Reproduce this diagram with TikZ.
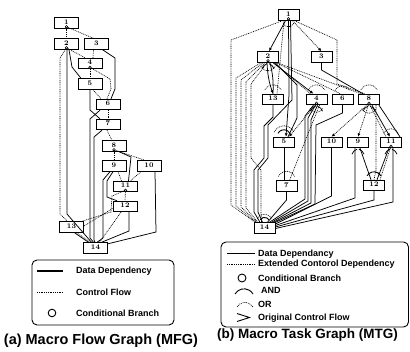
\documentclass[tikz,border=0pt]{standalone}
\usepackage{fontspec}
\newfontfamily\lsans{Liberation Sans}
\usetikzlibrary{calc,arrows.meta}
\begin{document}
\begin{tikzpicture}[x=1pt,y=1pt,
  gbox/.style={draw, line width=0.9pt, fill=white, minimum width=24pt, minimum height=10.5pt, inner sep=0pt, text height=4.8pt, text depth=2pt, font=\fontsize{7}{7}\selectfont\bfseries},
  tbox/.style={gbox, minimum width=21pt},
  dd/.style={line width=0.75pt},
  cf/.style={line width=0.65pt, dash pattern=on 0.9pt off 0.9pt},
  arr/.style={-{Latex[length=3.5pt,width=3pt]}},
  brc/.style={line width=0.6pt, fill=white},
  legtxt/.style={font=\lsans\bfseries\fontsize{9}{9}\selectfont, anchor=west, inner sep=0pt},
  captxt/.style={font=\lsans\bfseries\fontsize{14.5}{14.5}\selectfont, inner sep=0pt},
  legbox/.style={draw, line width=0.9pt, rounded corners=5pt}
]
\useasboundingbox (0,0) rectangle (410,-352);

% ================= (a) MFG =================
\node[gbox] (a1) at (66.5,-23) {1};
\node[gbox] (a2) at (66.5,-44) {2};
\node[gbox] (a3) at (96.5,-44) {3};
\node[gbox] (a4) at (90,-63.5) {4};
\node[gbox] (a5) at (90,-84) {5};
\node[gbox] (a6) at (108,-104.5) {6};
\node[gbox] (a7) at (108,-124.5) {7};
\node[gbox] (a8) at (114,-146) {8};
\node[gbox] (a9) at (114,-166) {9};
\node[gbox] (a10) at (149,-166) {10};
\node[gbox] (a11) at (125.5,-186.5) {11};
\node[gbox] (a12) at (125,-206.5) {12};
\node[gbox] (a13) at (71.5,-227) {13};
\node[gbox] (a14) at (95.5,-248) {14};

\foreach \n in {a1,a2,a4,a8,a11}{\coordinate (\n c) at ($(\n.south)+(0,1.9)$);}

% control flow
\draw[cf] (a1c) -- (a2.north);
\draw[cf] (a1c) -- ($(a3.north)+(-3,0)$);
\draw[cf] (a2c) -- ($(a4.north)+(-5,0)$);
\draw[cf] (a2c) -- (60,-58) -- (60,-214) -- ($(a13.north)+(-4,0)$);
\draw[cf] ($(a3.south)+(-3,0)$) -- ($(a4.north)+(3,0)$);
\draw[cf] (a4c) -- (a5.north);
\draw[cf] (a4c) -- (110,-79) -- (111,-89) -- ($(a6.north)+(-1,0)$);
\draw[cf] ($(a5.south)+(3,0)$) -- ($(a6.north)+(-7,0)$);
\draw[cf] (a6.south) -- (a7.north);
\draw[cf] ($(a7.south)+(-1,0)$) -- ($(a8.north)+(-2,0)$);
\draw[cf] (a8c) -- (a9.north);
\draw[cf] (a8c) -- ($(a10.north)+(-4,0)$);
\draw[cf] ($(a9.south)+(4,0)$) -- ($(a11.north)+(-4,0)$);
\draw[cf] ($(a10.south)+(-8,0)$) -- ($(a11.north)+(5,0)$);
\draw[cf] (a11c) -- (a12.north);
\draw[cf] (a11c) -- (112,-196) -- (111,-212) -- ($(a13.north east)+(-2,0)$);
\draw[cf] ($(a12.west)+(0,-2)$) -- ($(a13.east)+(0,1)$);
\draw[cf] ($(a13.south)+(5,0)$) -- ($(a14.north)+(-5,0)$);
\draw[cf] ($(a12.south)+(-4,0)$) -- ($(a14.north)+(4,0)$);

% data dependency
\draw[dd] ($(a2.south)+(0.6,0)$) -- (67,-214) -- ($(a14.north)+(-4,0)$);
\draw[dd] ($(a2.south)+(2.5,0)$) -- (72,-67) -- ($(a5.north)+(-9,0)$);
\draw[dd] ($(a3.south)+(6,0)$) -- (115,-58) -- (115,-89) -- ($(a6.north)+(3,0)$);
\draw[dd] (a5.south) -- (90,-110) -- ($(a7.north)+(-8,0)$);
\draw[dd] ($(a6.south)+(-8,0)$) -- (90,-119) -- (90,-238) -- ($(a14.north)+(-2,0)$);
\draw[dd] ($(a7.south)+(-6,0)$) -- (94,-137) -- (94,-240) -- ($(a14.north)+(-0.5,0)$);
\draw[dd] ($(a8.south)+(5,0)$) -- (131,-157) -- ($(a11.north)+(3,0)$);
\draw[dd] ($(a9.south)+(-4,0)$) -- (103,-180) -- (103,-238) -- ($(a14.north)+(1.5,0)$);
\draw[dd] ($(a9.south)+(-1,0)$) -- (107,-181) -- (107,-197) -- ($(a12.north)+(-8,0)$);
\draw[dd] ($(a10.south)+(6,0)$) -- (156,-232) -- ($(a14.north east)+(0,-1.5)$);
\draw[dd] ($(a12.south)+(4,0)$) -- (129,-231) -- ($(a14.north)+(6,0)$);
\draw[dd] ($(a13.south)+(3,0)$) -- ($(a14.north)+(-7,0)$);

\foreach \n in {a1,a2,a4,a8,a11}{\draw[brc] (\n c) circle (1.3pt);}

% legend (a)
\draw[legbox] (32,-260) rectangle (174,-325);
\draw[line width=1.4pt] (37,-271) -- (63,-271);
\node[legtxt] (la1) at (76,-271) {Data Dependency};
\draw[cf] (37,-292) -- (63,-292);
\node[legtxt] (la2) at (76,-292) {Control Flow};
\draw[line width=0.9pt] (52,-313) circle (3.8pt);
\node[legtxt] (la3) at (76,-313) {Conditional Branch};
\node[captxt] (capa) at (101,-340.5) {(a) Macro Flow Graph (MFG)};

% ================= (b) MTG =================
\node[tbox] (b1) at (288.5,-15) {1};
\node[tbox] (b2) at (268,-57) {2};
\node[tbox] (b3) at (321.5,-57) {3};
\node[tbox] (b13) at (273,-99.5) {13};
\node[tbox] (b4) at (316.5,-99.5) {4};
\node[tbox] (b6) at (342.5,-99.5) {6};
\node[tbox] (b8) at (369,-99.5) {8};
\node[tbox] (b5) at (284,-142.5) {5};
\node[tbox] (b10) at (331.5,-142.5) {10};
\node[tbox] (b9) at (358,-142.5) {9};
\node[tbox] (b11) at (391,-142.5) {11};
\node[tbox] (b7) at (286.5,-186) {7};
\node[tbox] (b12) at (374,-185.5) {12};
\node[tbox] (b14) at (264.5,-228) {14};

\foreach \n in {b1,b2,b4,b8,b11}{\coordinate (\n c) at ($(\n.south)+(0,1.9)$);}

% extended control dependency
\draw[cf] ($(b1.south)+(-6,0)$) -- (231,-40) -- (231,-205) -- ($(b14.north)+(-9.5,0)$);
\draw[cf] ($(b1.south)+(6,0)$) -- (337,-40) -- (337,-84) -- ($(b8.north)+(-4,0)$);
\draw[cf,arr] ($(b1.south)+(4,0)$) -- (b3.north);
\draw[cf] ($(b1.south)+(-4.5,0)$) -- ($(b13.north)+(4,0)$);
\draw[cf] ($(b2.south)+(-7,0)$) -- (236,-78) -- (236,-206) -- ($(b14.north)+(-8.5,0)$);
\draw[cf] ($(b2.south)+(-5,0)$) -- (241,-80) -- (241,-207) -- ($(b14.north)+(-7.5,0)$);
\draw[cf] ($(b2.south)+(-3,0)$) -- (246,-82) -- (246,-208) -- ($(b14.north)+(-6.5,0)$);
\draw[cf] ($(b2.south)+(-1,0)$) -- (251,-84) -- (251,-158) -- (261,-170) -- (261,-212) -- ($(b14.north)+(-3,0)$);
\draw[cf] ($(b2.south)+(6,0)$) -- ($(b4.north)+(-6,0)$);
\draw[cf] ($(b2.south)+(8,0)$) -- ($(b6.north)+(-2,0)$);
\draw[cf] ($(b2.south)+(9,0)$) -- ($(b8.north)+(-8,0)$);
\draw[cf,arr] (b4c) -- ($(b5.north)+(5,0)$);
\draw[cf] ($(b4.south)+(3,0)$) -- ($(b7.north)+(3,0)$);
\draw[cf,arr] (b8c) -- (b10.north);
\draw[cf,arr] (b8c) -- (b9.north);
\draw[cf] (b8c) -- ($(b11.north)+(-5,0)$);
\draw[cf] ($(b8.south)+(7,0)$) -- (376,-170) -- (b12.north);
\draw[cf] (b11c) -- ($(b12.north)+(6,0)$);

% data dependency
\draw[dd,arr] ($(b1.south)+(-3,0)$) -- ($(b2.north)+(1,0)$);
\draw[dd,arr] ($(b2.south)+(-1,0)$) to[bend right=8] (b13.north);
\draw[dd] ($(b2.south)+(2,0)$) to[bend left=8] (b13.north);
\draw[dd,arr] ($(b2.south)+(5,0)$) -- ($(b4.north)+(-3,0)$);
\draw[dd,arr] (b1.south) -- (289,-95) -- ($(b5.north)+(2,0)$);
\draw[dd] ($(b1.south)+(2,0)$) -- (292,-100) -- (268,-125) -- (268,-158) -- (258,-170) -- (258,-212) -- ($(b14.north)+(-2,0)$);
\draw[dd] ($(b2.south)+(7,0)$) -- (297,-85) -- (297,-118) -- ($(b5.north)+(4,0)$);
\draw[dd] (b13.south) -- (273,-117) -- (264,-126) -- (264,-158) -- (254,-170) -- (254,-212) -- ($(b14.north)+(-4.5,0)$);
\draw[dd] (b3.south) -- (321.5,-70) -- ($(b8.north)+(-6,0)$);
\draw[dd] ($(b4.south)+(-3,0)$) -- (305,-116) -- (305,-199) -- ($(b14.north east)+(-6,0)$);
\draw[dd] ($(b4.south)+(-1,0)$) -- (308,-118) -- (308,-201) -- ($(b14.north east)+(-4,0)$);
\draw[dd] ($(b4.south)+(1,0)$) -- (311,-120) -- (311,-203) -- ($(b14.north east)+(-2,0)$);
\draw[dd] (b6.south) -- (342.5,-113) -- (316,-125) -- (315,-204) -- (b14.north east);
\draw[dd] (b5.south) -- ($(b7.north)+(-2.5,0)$);
\draw[dd] (b7.south) -- (286.5,-200) -- ($(b14.north east)+(-8,0)$);
\draw[dd] (b10.south) -- (331.5,-196) -- ($(b14.east)+(0,4)$);
\draw[dd] ($(b9.south)+(-3,0)$) -- (355,-198) -- ($(b14.east)+(0,2.5)$);
\draw[dd] (b12.south) -- (374,-200) -- ($(b14.east)+(0,1)$);
\draw[dd] ($(b11.south)+(2,0)$) -- (393,-202) -- ($(b14.east)+(0,-0.5)$);
\draw[dd,arr] ($(b8.south)+(3,0)$) -- ($(b11.north)+(-1,0)$);
\draw[dd] ($(b8.south east)+(-1,0)$) -- ($(b11.north east)+(-2,0)$);
\draw[dd] ($(b9.south)+(2,0)$) -- ($(b12.north)+(-3,0)$);
\draw[dd] ($(b11.south)+(-2,0)$) -- ($(b12.north)+(3,0)$);

% OR arcs (dotted) and AND arcs (solid)
\foreach \n/\r in {b13/9,b4/9,b6/8,b8/9,b5/11,b7/9,b11/8,b14/8}{
  \draw[cf] ($(\n.north)+(155:\r pt)$) arc[start angle=155, end angle=25, radius=\r pt];}
\foreach \n/\r in {b5/7,b12/8,b14/5}{
  \draw[line width=0.9pt] ($(\n.north)+(150:\r pt)$) arc[start angle=150, end angle=30, radius=\r pt];}
\foreach \n/\r in {b1/6,b2/8,b4/7,b8/8}{
  \draw[cf] ($(\n.south)+(205:\r pt)$) arc[start angle=205, end angle=335, radius=\r pt];}
% original control flow marks
\foreach \n in {b9,b11,b2,b4,b8}{
  \draw[dd] ($(\n.south)+(-6,-6)$) .. controls ($(\n.south)+(-4,-2.5)$) .. ($(\n.south)+(-1,-1)$);
  \draw[dd] ($(\n.south)+(6,-6)$) .. controls ($(\n.south)+(4,-2.5)$) .. ($(\n.south)+(1,-1)$);}

\foreach \n in {b1,b2,b4,b8,b11}{\draw[brc] (\n c) circle (1.3pt);}

% legend (b)
\draw[legbox] (221,-242) rectangle (408.5,-327);
\draw[line width=1pt] (227,-254) -- (255,-254);
\node[legtxt] (lb1) at (258,-254) {Data Dependancy};
\draw[cf] (227,-264) -- (255,-264);
\node[legtxt] (lb2) at (258,-264) {Extended Contorol Dependency};
\draw[line width=0.9pt] (242,-278) circle (4pt);
\node[legtxt] (lb3) at (258,-278) {Conditional Branch};
\draw[line width=0.9pt] (235,-294) arc[start angle=150, end angle=30, radius=10.4pt];
\node[legtxt] (lb4) at (261,-290) {AND};
\draw[cf] (237,-307) arc[start angle=150, end angle=30, radius=9.2pt];
\node[legtxt] (lb5) at (258,-304) {OR};
\draw[line width=0.9pt] (237,-313.5) -- (249.5,-317.5) -- (237,-321.5);
\node[legtxt] (lb6) at (258,-318) {Original Control Flow};
\node[captxt, font=\lsans\bfseries\fontsize{13.5}{13.5}\selectfont] (capb) at (307.5,-335.5) {(b) Macro Task Graph (MTG)};
\end{tikzpicture}
\end{document}
